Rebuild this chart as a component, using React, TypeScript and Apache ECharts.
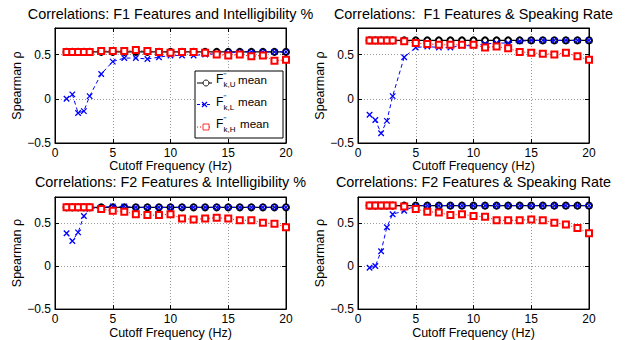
import React, { useEffect, useRef } from 'react';
import * as echarts from 'echarts';

const FONT = '"Liberation Sans", Arial, Helvetica, sans-serif';

// Cutoff frequencies (Hz)
const cutoffs = [1, 1.5, 2, 2.5, 3, 4, 5, 6, 7, 8, 9, 10, 11, 12, 13, 14, 15, 16, 17, 18, 19, 20];

const titles = [
  'Correlations: F1 Features and Intelligibility %',
  'Correlations:  F1 Features & Speaking Rate',
  'Correlations: F2 Features & Intelligibility %',
  'Correlations: F2 Features & Speaking Rate',
];

const xTicks = [0, 5, 10, 15, 20];
const yTicks = [-0.5, 0, 0.5];

// Panel 1: F1 & Intelligibility
const p1U = [0.53, 0.53, 0.53, 0.53, 0.53, 0.53, 0.53, 0.53, 0.53, 0.53, 0.53, 0.53, 0.53, 0.53, 0.53, 0.53, 0.53, 0.53, 0.53, 0.53, 0.53, 0.53];
const p1L = [0.0, 0.05, -0.16, -0.14, 0.03, 0.28, 0.42, 0.46, 0.46, 0.45, 0.47, 0.49, 0.49, 0.49, 0.5, 0.51, 0.52, 0.53, 0.53, 0.53, 0.53, 0.53];
const p1H = [0.53, 0.53, 0.53, 0.53, 0.53, 0.54, 0.54, 0.54, 0.55, 0.54, 0.53, 0.52, 0.53, 0.53, 0.52, 0.5, 0.49, 0.5, 0.48, 0.49, 0.43, 0.44];

// Panel 2: F1 & Speaking Rate
const p2U = [0.66, 0.66, 0.66, 0.66, 0.66, 0.66, 0.66, 0.66, 0.66, 0.66, 0.66, 0.66, 0.66, 0.66, 0.66, 0.66, 0.66, 0.66, 0.66, 0.66, 0.66, 0.66];
const p2L = [-0.18, -0.24, -0.39, -0.25, 0.03, 0.47, 0.58, 0.59, 0.58, 0.58, 0.6, 0.6, 0.62, 0.63, 0.63, 0.65, 0.66, 0.66, 0.66, 0.66, 0.66, 0.66];
const p2H = [0.66, 0.66, 0.66, 0.66, 0.66, 0.65, 0.63, 0.62, 0.61, 0.61, 0.61, 0.61, 0.58, 0.59, 0.57, 0.53, 0.52, 0.51, 0.5, 0.52, 0.48, 0.44];

// Panel 3: F2 & Intelligibility
const p3U = [0.68, 0.68, 0.68, 0.68, 0.68, 0.68, 0.68, 0.68, 0.68, 0.68, 0.68, 0.68, 0.68, 0.68, 0.68, 0.68, 0.68, 0.68, 0.68, 0.68, 0.68, 0.68];
const p3L = [0.38, 0.29, 0.39, 0.58, 0.67, 0.68, 0.69, 0.69, 0.68, 0.68, 0.68, 0.68, 0.68, 0.68, 0.68, 0.68, 0.68, 0.68, 0.68, 0.68, 0.68, 0.68];
const p3H = [0.68, 0.68, 0.68, 0.68, 0.68, 0.66, 0.64, 0.63, 0.6, 0.59, 0.59, 0.6, 0.55, 0.54, 0.55, 0.56, 0.55, 0.53, 0.53, 0.5, 0.49, 0.45];

// Panel 4: F2 & Speaking Rate
const p4U = [0.7, 0.7, 0.7, 0.7, 0.7, 0.7, 0.7, 0.7, 0.7, 0.7, 0.7, 0.7, 0.7, 0.7, 0.7, 0.7, 0.7, 0.7, 0.7, 0.7, 0.7, 0.7];
const p4L = [-0.02, 0.0, 0.17, 0.45, 0.6, 0.64, 0.7, 0.7, 0.7, 0.7, 0.7, 0.7, 0.7, 0.7, 0.7, 0.7, 0.7, 0.7, 0.7, 0.7, 0.7, 0.7];
const p4H = [0.7, 0.7, 0.7, 0.7, 0.7, 0.69, 0.66, 0.63, 0.62, 0.59, 0.6, 0.58, 0.57, 0.53, 0.53, 0.53, 0.54, 0.53, 0.5, 0.48, 0.44, 0.38];

const panels = [
  [p1U, p1L, p1H],
  [p2U, p2L, p2H],
  [p3U, p3L, p3H],
  [p4U, p4L, p4H],
];

const legendSubs = ['k,U', 'k,L', 'k,H'];

const GRIDS = [
  { left: 55, top: 28, width: 231, height: 115 },
  { left: 358, top: 28, width: 231, height: 115 },
  { left: 55, top: 197, width: 231, height: 115 },
  { left: 358, top: 197, width: 231, height: 115 },
];

const X_SYMBOL = 'path://M0,0L10,10M10,0L0,10';

function fmtY(v: number) {
  for (const t of yTicks) {
    if (Math.abs(v - t) < 1e-6) {
      return t < 0 ? '\u2212' + String(Math.abs(t)) : String(t);
    }
  }
  return '';
}

function fmtX(v: number) {
  for (const t of xTicks) {
    if (Math.abs(v - t) < 1e-6) return String(t);
  }
  return '';
}

export default function App() {
  const ref = useRef<HTMLDivElement>(null);

  useEffect(() => {
    if (!ref.current) return;
    const chart = echarts.init(ref.current, undefined, { renderer: 'svg' });

    const xAxis: any[] = [];
    const yAxis: any[] = [];
    const series: any[] = [];
    const title: any[] = [];

    GRIDS.forEach((g, i) => {
      title.push({
        text: titles[i],
        left: g.left + g.width / 2,
        top: i < 2 ? 7 : 175,
        textAlign: 'center',
        padding: 0,
        textStyle: { fontSize: 14.4, fontWeight: 'normal', color: '#000', fontFamily: FONT },
      });
      xAxis.push({
        gridIndex: i,
        type: 'value',
        position: 'bottom',
        min: 0,
        max: 20,
        interval: 5,
        axisLine: { show: true, onZero: false, lineStyle: { color: '#000', width: 1 } },
        axisTick: { show: true, inside: true, length: 4, lineStyle: { color: '#000' } },
        axisLabel: { color: '#000', fontSize: 12, fontFamily: FONT, margin: 4, formatter: fmtX },
        splitLine: { show: true, lineStyle: { color: '#9a9a9a', type: [1, 2], width: 1 } },
        name: 'Cutoff Frequency (Hz)',
        nameLocation: 'middle',
        nameGap: 15,
        nameTextStyle: { color: '#000', fontSize: 12.5, fontFamily: FONT },
      });
      xAxis.push({
        gridIndex: i,
        type: 'value',
        position: 'top',
        min: 0,
        max: 20,
        interval: 5,
        axisLine: { show: true, onZero: false, lineStyle: { color: '#000', width: 1 } },
        axisTick: { show: true, inside: true, length: 4, lineStyle: { color: '#000' } },
        axisLabel: { show: false },
        splitLine: { show: false },
      });
      yAxis.push({
        gridIndex: i,
        type: 'value',
        position: 'left',
        min: -0.5,
        max: 0.8,
        interval: 0.5,
        axisLine: { show: true, onZero: false, lineStyle: { color: '#000', width: 1 } },
        axisTick: { show: true, inside: true, length: 4, lineStyle: { color: '#000' } },
        axisLabel: { color: '#000', fontSize: 12, fontFamily: FONT, margin: 4, formatter: fmtY },
        splitLine: { show: true, lineStyle: { color: '#9a9a9a', type: [1, 2], width: 1 } },
        name: 'Spearman \u03c1',
        nameLocation: 'middle',
        nameGap: 29,
        nameTextStyle: { color: '#000', fontSize: 12.5, fontFamily: FONT },
      });
      yAxis.push({
        gridIndex: i,
        type: 'value',
        position: 'right',
        min: -0.5,
        max: 0.8,
        interval: 0.5,
        axisLine: { show: true, onZero: false, lineStyle: { color: '#000', width: 1 } },
        axisTick: { show: true, inside: true, length: 4, lineStyle: { color: '#000' } },
        axisLabel: { show: false },
        splitLine: { show: false },
      });

      const [u, l, h] = panels[i];
      const ax = 2 * i;
      series.push({
        type: 'line',
        name: 'U' + i,
        xAxisIndex: ax,
        yAxisIndex: ax,
        data: cutoffs.map((x, k) => [x, u[k]]),
        symbol: 'emptyCircle',
        symbolSize: 6,
        lineStyle: { color: '#000', width: 1.2, type: 'solid' },
        itemStyle: { color: '#000', borderWidth: 0.9 },
        z: 2,
      });
      series.push({
        type: 'line',
        name: 'L' + i,
        xAxisIndex: ax,
        yAxisIndex: ax,
        data: cutoffs.map((x, k) => [x, l[k]]),
        symbol: X_SYMBOL,
        symbolSize: 5.5,
        lineStyle: { color: '#0000ff', width: 1, type: [4, 3] },
        itemStyle: { color: '#0000ff', borderColor: '#0000ff', borderWidth: 1.3 },
        z: 3,
      });
      series.push({
        type: 'line',
        name: 'H' + i,
        xAxisIndex: ax,
        yAxisIndex: ax,
        data: cutoffs.map((x, k) => [x, h[k]]),
        symbol: 'emptyRect',
        symbolSize: 6,
        lineStyle: { color: '#ff0000', width: 1, type: [1, 2] },
        itemStyle: { color: '#ff0000', borderColor: '#ff0000', borderWidth: 0.8 },
        z: 4,
      });
    });

    // Legend (panel 1)
    const lx = 195;
    const ly = 71;
    const rows = [83, 104.5, 127];
    const textRows = [79, 101.5, 123.5];
    const colors = ['#000', '#0000ff', '#ff0000'];
    const dashes: any[] = [null, [3, 2], [1, 2]];
    const legend: any[] = [
      {
        type: 'rect',
        shape: { x: lx, y: ly, width: 88, height: 67 },
        style: { fill: '#fff', stroke: '#000', lineWidth: 1 },
        z: 100,
      },
    ];
    rows.forEach((y, r) => {
      legend.push({
        type: 'line',
        shape: { x1: 197, y1: y, x2: 212, y2: y },
        style: { stroke: colors[r], lineWidth: 1, lineDash: dashes[r] },
        z: 101,
      });
      if (r === 0) {
        legend.push({ type: 'circle', shape: { cx: 206, cy: y, r: 3 }, style: { fill: '#fff', stroke: '#000', lineWidth: 0.9 }, z: 102 });
      } else if (r === 1) {
        legend.push({ type: 'line', shape: { x1: 202, y1: y - 2.5, x2: 207, y2: y + 2.5 }, style: { stroke: '#0000ff', lineWidth: 1.3 }, z: 102 });
        legend.push({ type: 'line', shape: { x1: 207, y1: y - 2.5, x2: 202, y2: y + 2.5 }, style: { stroke: '#0000ff', lineWidth: 1.3 }, z: 102 });
      } else {
        legend.push({ type: 'rect', shape: { x: 203, y: y - 3, width: 6, height: 6 }, style: { fill: '#fff', stroke: '#ff0000', lineWidth: 0.8 }, z: 102 });
      }
      const ty = textRows[r];
      legend.push({
        type: 'text', x: 216, y: ty, z: 102,
        style: { text: 'F', fontSize: 12, fontFamily: FONT, fill: '#000', verticalAlign: 'middle', align: 'left' },
      });
      legend.push({
        type: 'text', x: 223.6, y: ty - 3.6, z: 102,
        style: { text: "''", fontSize: 7, fontFamily: FONT, fill: '#000', verticalAlign: 'middle', align: 'left' },
      });
      legend.push({
        type: 'text', x: 223.6, y: ty + 5.8, z: 102,
        style: { text: legendSubs[r], fontSize: 8, fontFamily: FONT, fill: '#000', verticalAlign: 'middle', align: 'left' },
      });
      legend.push({
        type: 'text', x: r === 2 ? 240 : 238, y: ty, z: 102,
        style: { text: 'mean', fontSize: 11.6, fontFamily: FONT, fill: '#000', verticalAlign: 'middle', align: 'left' },
      });
    });

    chart.setOption({
      animation: false,
      backgroundColor: '#fff',
      title,
      grid: GRIDS.map((g) => ({ ...g, show: true, borderColor: '#000', borderWidth: 1, backgroundColor: '#fff', containLabel: false })),
      xAxis,
      yAxis,
      series,
      graphic: legend,
    });

    return () => chart.dispose();
  }, []);

  return <div ref={ref} style={{ position: 'fixed', left: 0, top: 0, width: 639, height: 340, background: '#fff' }} />;
}
